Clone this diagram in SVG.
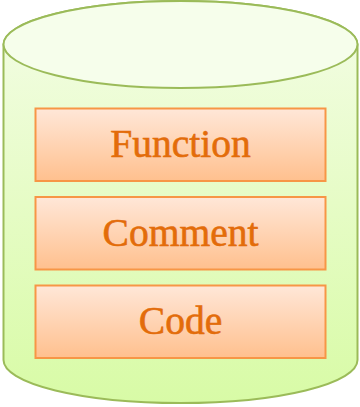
<svg xmlns="http://www.w3.org/2000/svg" width="360" height="407" viewBox="0 0 360 407">
<defs>
<linearGradient id="body" x1="0" y1="0" x2="0" y2="1">
<stop offset="0" stop-color="#F4FDE6"/>
<stop offset="1" stop-color="#D8FBA6"/>
</linearGradient>
<linearGradient id="box" x1="0" y1="0" x2="0" y2="1">
<stop offset="0" stop-color="#FFE7D8"/>
<stop offset="1" stop-color="#FFC08E"/>
</linearGradient>
<style>
.cyl{stroke:#9BBB59;stroke-width:2}
.b{fill:url(#box);stroke:#F79646;stroke-width:2}
.t{font-family:"Liberation Serif","Times New Roman",serif;font-size:39.5px;fill:#E36C0A;stroke:#E36C0A;stroke-width:0.6;text-anchor:middle}
</style>
</defs>
<g id="cylinder">
<path class="cyl" fill="url(#body)" d="M3.5,44.5 L3.5,360 A177,43 0 0 0 357.5,360 L357.5,44.5 A177,43.5 0 0 0 3.5,44.5 Z"/>
<ellipse class="cyl" fill="#F6FEEB" cx="180.5" cy="44.5" rx="177" ry="43.5"/>
</g>
<g id="function">
<rect class="b" x="35.5" y="108.5" width="290" height="72.5"/>
<text class="t" x="180.5" y="157">Function</text>
</g>
<g id="comment">
<rect class="b" x="35.5" y="197" width="290" height="72.5"/>
<text class="t" x="180.5" y="246">Comment</text>
</g>
<g id="code">
<rect class="b" x="35.5" y="285.5" width="290" height="72.5"/>
<text class="t" x="180.5" y="334">Code</text>
</g>
<g id="connectors"/>
</svg>
